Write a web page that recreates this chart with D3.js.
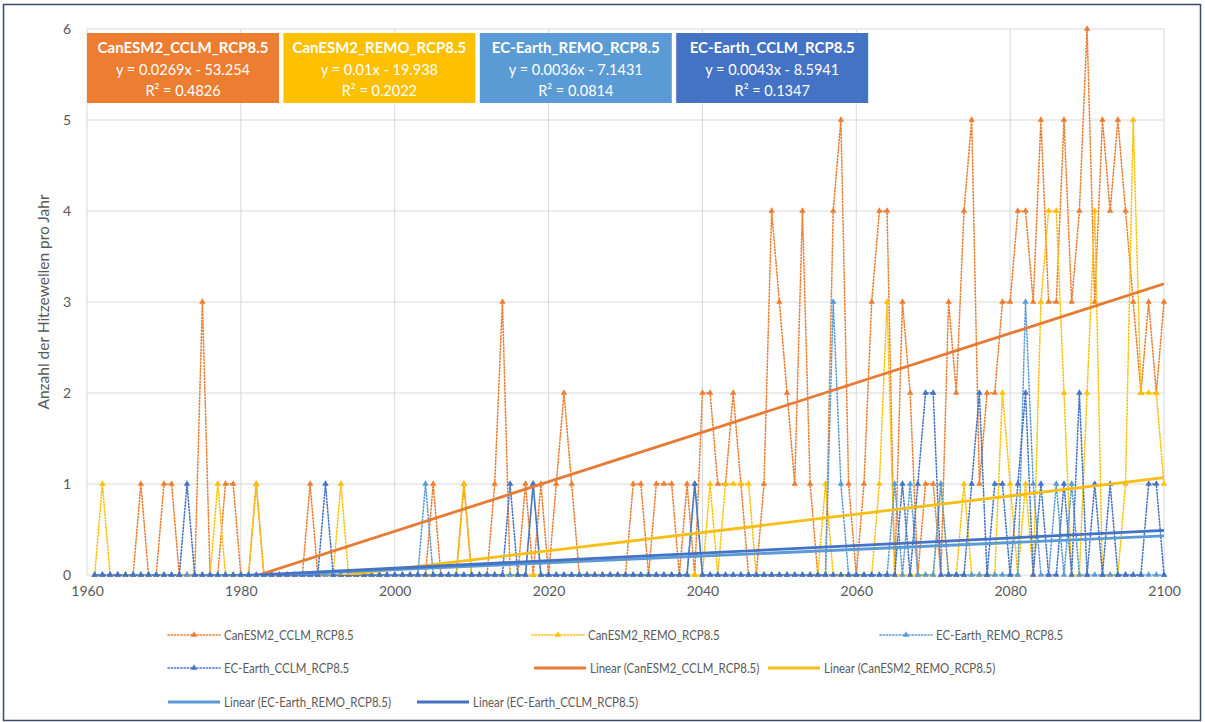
<!DOCTYPE html>
<html><head><meta charset="utf-8">
<script src="https://cdn.jsdelivr.net/npm/d3@7"></script>
<style>
html,body{margin:0;padding:0;background:#fff;}
svg{display:block;font-family:Lato,"Open Sans",sans-serif;}
</style></head>
<body>
<svg id="chart" width="1205" height="722"></svg>
<script>
// ---------- DATA ----------
const years = d3.range(1961, 2101);
const seriesNames = ["CanESM2_CCLM_RCP8.5","CanESM2_REMO_RCP8.5","EC-Earth_REMO_RCP8.5","EC-Earth_CCLM_RCP8.5"];
const seriesColors = ["#ED7D31","#FFC000","#5B9BD5","#4472C4"];
const trendColors = ["#E67B36","#F7BE16","#5B9BD5","#4472C4"];

// CanESM2_CCLM_RCP8.5, 1961..2100
const canCCLM = [
 0,0,0,0,0,0,1,0,0,1,
 1,0,0,0,3,0,0,1,1,0,
 0,1,0,0,0,0,0,0,1,0,
 0,0,0,0,0,0,0,0,0,0,
 0,0,0,0,1,0,0,0,1,0,
 0,0,1,3,0,0,1,0,1,0,
 1,2,1,0,0,0,0,0,0,0,
 1,1,0,1,1,1,0,1,0,2,
 2,1,1,2,1,0,0,1,4,3,
 2,1,4,1,0,0,4,5,1,0,
 1,3,4,4,0,3,2,0,1,1,
 0,3,2,4,5,1,2,2,3,3,
 4,4,3,5,3,3,5,3,4,6,
 3,5,4,5,4,3,2,3,2,3];
// CanESM2_REMO_RCP8.5
const canREMO = [
 0,1,0,0,0,0,0,0,0,0,
 0,0,0,0,0,0,1,0,0,0,
 0,1,0,0,0,0,0,0,0,0,
 0,0,1,0,0,0,0,0,0,0,
 0,0,0,0,0,0,0,0,1,0,
 0,0,0,0,0,0,0,0,0,0,
 0,0,0,0,0,0,0,0,0,0,
 0,0,0,0,0,0,0,0,0,0,
 1,0,1,1,1,1,0,0,0,0,
 0,0,0,0,0,1,0,0,0,0,
 0,0,1,3,0,0,0,0,0,0,
 1,0,0,1,0,0,0,0,2,1,
 0,1,0,3,4,4,2,0,0,2,
 4,0,0,0,1,5,2,2,2,1];
// EC-Earth_REMO_RCP8.5
const ecREMO = [
 0,0,0,0,0,0,0,0,0,0,
 0,0,0,0,0,0,0,0,0,0,
 0,0,0,0,0,0,0,0,0,0,
 0,0,0,0,0,0,0,0,0,0,
 0,0,0,1,0,0,0,0,0,0,
 0,0,0,0,0,0,0,1,0,0,
 0,0,0,0,0,0,0,0,0,0,
 0,0,0,0,0,0,0,0,1,0,
 0,0,0,0,0,0,0,0,0,0,
 0,0,0,0,0,0,3,1,0,0,
 0,0,0,0,1,0,1,0,0,0,
 1,0,0,0,0,0,0,0,0,0,
 0,3,1,0,0,1,0,1,0,0,
 0,0,0,0,0,0,0,0,0,0];
// EC-Earth_CCLM_RCP8.5
const ecCCLM = [
 0,0,0,0,0,0,0,0,0,0,
 0,0,1,0,0,0,0,0,0,0,
 0,0,0,0,0,0,0,0,0,0,
 1,0,0,0,0,0,0,0,0,0,
 0,0,0,0,0,0,0,0,0,0,
 0,0,0,0,1,0,0,1,0,0,
 0,0,0,0,0,0,0,0,0,0,
 0,0,0,0,0,0,0,0,1,0,
 0,0,0,0,0,0,0,0,0,0,
 0,0,0,0,0,0,0,0,0,0,
 0,0,0,0,0,1,0,1,2,2,
 0,0,0,0,1,2,0,1,1,0,
 1,2,0,1,0,0,1,0,2,0,
 1,0,1,0,0,0,0,1,1,0];
const seriesValues = [canCCLM, canREMO, ecREMO, ecCCLM];

// linear trend values read at the first and last year (1961, 2100)
const trendAt1961 = [-0.58, -0.328, -0.085, -0.087];
const trendAt2100 = [3.2, 1.07, 0.43, 0.49];

const eqLines = ["y = 0.0269x - 53.254","y = 0.01x - 19.938","y = 0.0036x - 7.1431","y = 0.0043x - 8.5941"];
const r2Lines = ["R² = 0.4826","R² = 0.2022","R² = 0.0814","R² = 0.1347"];

const xTicks = [1960,1980,2000,2020,2040,2060,2080,2100];
const yTicks = [0,1,2,3,4,5,6];
const yTitle = "Anzahl der Hitzewellen pro Jahr";

// ---------- CHART ----------
const svg = d3.select("#chart");
const L = 87, R = 1164, T = 29, B = 575;
const x = d3.scaleLinear().domain([1960,2100]).range([L,R]);
const y = d3.scaleLinear().domain([0,6]).range([B,T]);

// outer border
svg.append("rect").attr("x",3.5).attr("y",4.5).attr("width",1197).attr("height",716)
  .attr("fill","#fff").attr("stroke","#3A4A68").attr("stroke-width",1.5);

// gridlines
const grid = svg.append("g");
grid.selectAll(".gy").data(yTicks).join("line")
  .attr("x1",L).attr("x2",R).attr("y1",d=>y(d)).attr("y2",d=>y(d))
  .attr("stroke","#D9D9D9").attr("stroke-width",1);
grid.selectAll(".gx").data(xTicks).join("line")
  .attr("y1",T).attr("y2",B).attr("x1",d=>x(d)).attr("x2",d=>x(d))
  .attr("stroke","#D9D9D9").attr("stroke-width",1);

// axes
const xAxis = svg.append("g").attr("transform",`translate(0,${B})`)
  .call(d3.axisBottom(x).tickValues(xTicks).tickFormat(d3.format("d")).tickSize(0).tickPadding(11));
const yAxis = svg.append("g").attr("transform",`translate(${L},0)`)
  .call(d3.axisLeft(y).tickValues(yTicks).tickFormat(d3.format("d")).tickSize(0).tickPadding(16));
[xAxis,yAxis].forEach(a=>{
  a.select(".domain").remove();
  a.selectAll("text").attr("fill","#595959").style("font-size","14px").style("font-family","Lato, sans-serif");
});

svg.append("text").attr("transform",`translate(49,${(T+B)/2}) rotate(-90)`)
  .attr("text-anchor","middle").attr("fill","#595959").style("font-size","15.5px").text(yTitle);

// series
const line = d3.line().x((d,i)=>x(years[i])).y(d=>y(d));
const tri = d3.symbol().type(d3.symbolTriangle).size(18);
seriesValues.forEach((vals,si)=>{
  const g = svg.append("g");
  g.append("path").datum(vals).attr("d",line).attr("fill","none")
    .attr("stroke",seriesColors[si]).attr("stroke-width",1.6)
    .attr("stroke-dasharray","1.2,2").attr("stroke-linecap","round");
  g.selectAll("path.m").data(vals).join("path").attr("class","m")
    .attr("d",tri).attr("transform",(d,i)=>`translate(${x(years[i])},${y(d)})`)
    .attr("fill",seriesColors[si]);
});

// trendlines (clipped to the plot area like the original)
svg.append("clipPath").attr("id","tclip").append("rect")
  .attr("x",L).attr("y",T).attr("width",R-L).attr("height",B-T);
const tg = svg.append("g").attr("clip-path","url(#tclip)");
[0,1,2,3].forEach(si=>{
  tg.append("line")
    .attr("x1",x(1961)).attr("y1",y(trendAt1961[si]))
    .attr("x2",x(2100)).attr("y2",y(trendAt2100[si]))
    .attr("stroke",trendColors[si]).attr("stroke-width",2.8);
});

// equation boxes
const boxW = 192, boxH = 70, boxGap = 4.4, boxY = 33;
const boxes = svg.append("g").selectAll("g").data(seriesNames).join("g")
  .attr("transform",(d,i)=>`translate(${L+i*(boxW+boxGap)},${boxY})`);
boxes.append("rect").attr("width",boxW).attr("height",boxH).attr("fill",(d,i)=>seriesColors[i]);
boxes.append("text").attr("x",boxW/2).attr("y",20).attr("text-anchor","middle")
  .attr("fill","#fff").style("font-weight","bold").style("font-size","15px").text(d=>d);
boxes.append("text").attr("x",boxW/2).attr("y",42).attr("text-anchor","middle")
  .attr("fill","#fff").style("font-size","14.5px").text((d,i)=>eqLines[i]);
boxes.append("text").attr("x",boxW/2).attr("y",63).attr("text-anchor","middle")
  .attr("fill","#fff").style("font-size","14.5px").text((d,i)=>r2Lines[i]);

// legend
const legendItems = [
  {x:168,y:635,label:"CanESM2_CCLM_RCP8.5",s:0,dotted:true},
  {x:532,y:635,label:"CanESM2_REMO_RCP8.5",s:1,dotted:true},
  {x:880,y:635,label:"EC-Earth_REMO_RCP8.5",s:2,dotted:true},
  {x:168,y:668,label:"EC-Earth_CCLM_RCP8.5",s:3,dotted:true},
  {x:534,y:668,label:"Linear (CanESM2_CCLM_RCP8.5)",s:0,dotted:false},
  {x:768,y:668,label:"Linear (CanESM2_REMO_RCP8.5)",s:1,dotted:false},
  {x:168,y:702,label:"Linear (EC-Earth_REMO_RCP8.5)",s:2,dotted:false},
  {x:417,y:702,label:"Linear (EC-Earth_CCLM_RCP8.5)",s:3,dotted:false}
];
const lg = svg.append("g").selectAll("g").data(legendItems).join("g")
  .attr("transform",d=>`translate(${d.x},${d.y})`);
lg.each(function(d){
  const g = d3.select(this);
  if(d.dotted){
    g.append("line").attr("x1",0).attr("x2",52).attr("y1",0).attr("y2",0)
      .attr("stroke",seriesColors[d.s]).attr("stroke-width",1.6)
      .attr("stroke-dasharray","1.2,2").attr("stroke-linecap","round");
    g.append("path").attr("d",tri).attr("transform","translate(26,0)").attr("fill",seriesColors[d.s]);
  } else {
    g.append("line").attr("x1",0).attr("x2",52).attr("y1",0).attr("y2",0)
      .attr("stroke",trendColors[d.s]).attr("stroke-width",2.8);
  }
  g.append("text").attr("transform","translate(56,5) scale(0.82,1)").attr("fill","#595959")
    .style("font-size","14px").text(d.label);
});
</script>
</body></html>
